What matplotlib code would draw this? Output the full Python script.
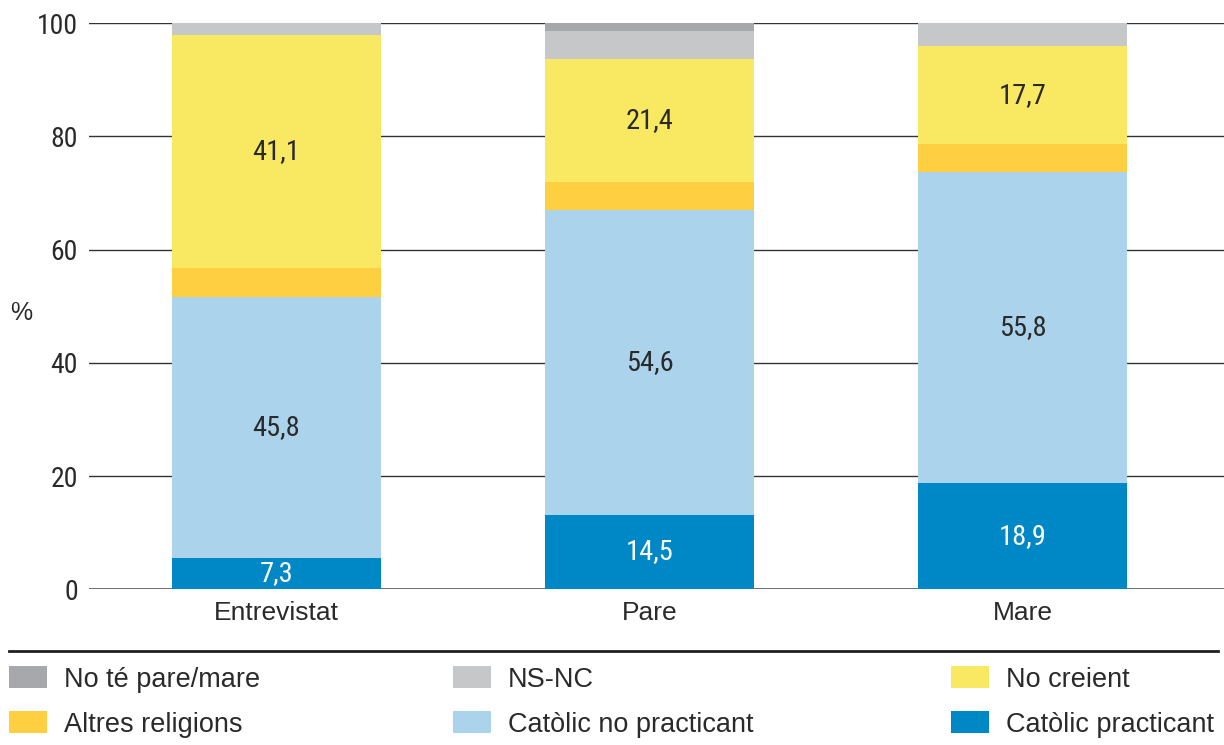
import matplotlib
matplotlib.use("Agg")
import matplotlib.pyplot as plt
from matplotlib.patches import Rectangle
from matplotlib.lines import Line2D
from matplotlib import font_manager as fm
from matplotlib.transforms import ScaledTranslation

# ---------------- data ----------------
categories = ["Entrevistat", "Pare", "Mare"]
series_names = ["Catòlic practicant", "Catòlic no practicant", "Altres religions",
                "No creient", "NS-NC", "No té pare/mare"]
catolic_practicant = [5.6, 13.2, 18.8]
catolic_no_practicant = [46.1, 53.9, 55.0]
altres_religions = [5.1, 4.9, 4.8]
no_creient = [41.1, 21.7, 17.4]
ns_nc = [2.1, 4.9, 4.0]
no_te_pare_mare = [0.0, 1.4, 0.0]
series_values = [catolic_practicant, catolic_no_practicant, altres_religions,
                 no_creient, ns_nc, no_te_pare_mare]
# printed value labels (None = no label)
labels_practicant = ["7,3", "14,5", "18,9"]
labels_no_practicant = ["45,8", "54,6", "55,8"]
labels_no_creient = ["41,1", "21,4", "17,7"]
series_labels = [labels_practicant, labels_no_practicant, None, labels_no_creient, None, None]
y_ticks = [0, 20, 40, 60, 80, 100]

colors = ["#0087c5", "#abd3eb", "#fecf40", "#f9e862", "#c6c7c9", "#a7a8ac"]
label_colors = ["white", "#2a2a2a", "#2a2a2a", "#2a2a2a", "#2a2a2a", "#2a2a2a"]

FONT = ["Liberation Sans", "DejaVu Sans"]
TXT = "#2a2a2a"


def find_narrow():
    best = None
    for f in fm.fontManager.ttflist:
        nm = f.name.lower()
        path = f.fname.lower()
        if f.style != "normal" or f.weight not in (400, "normal", "regular"):
            continue
        narrow = ("narrow" in nm or "condensed" in nm or "narrow" in path
                  or "condensed" in path or str(f.stretch) in ("condensed", "semi-condensed"))
        if not narrow:
            continue
        if "mono" in nm or "serif" in nm and "sans" not in nm:
            continue
        score = 0
        if "liberation sans narrow" in nm:
            score = 5
        elif "roboto" in nm:
            score = 4
        elif "open sans" in nm or "noto sans" in nm:
            score = 3
        elif "dejavu sans" in nm:
            score = 2
        else:
            score = 1
        if best is None or score > best[0]:
            best = (score, f.fname)
    return best[1] if best else None


narrow_path = find_narrow()
if narrow_path:
    NARROW_FP = dict(fontproperties=fm.FontProperties(fname=narrow_path))
    num_size = 20.5
    tick_size = 20
else:
    NARROW_FP = dict(family=FONT)
    num_size = 17
    tick_size = 17

W, H = 1224, 745
fig = plt.figure(figsize=(W / 100, H / 100), dpi=100)
ax = fig.add_axes([89 / W, (H - 589.3) / H, 1 - 89 / W, (589.3 - 23.3) / H])

# gridlines
for v in y_ticks[1:]:
    ax.axhline(v, color="#333333", lw=1.0, zorder=0)
ax.axhline(0, color="#6d6e70", lw=1.4, zorder=0)

x = list(range(len(categories)))
bottoms = [0.0] * len(categories)
for vals, col, labs, lc in zip(series_values, colors, series_labels, label_colors):
    ax.bar(x, vals, width=0.56, bottom=bottoms, color=col, zorder=2, linewidth=0)
    if labs is not None:
        for i, (v, b, t) in enumerate(zip(vals, bottoms, labs)):
            t_ = ax.text(i, b + v / 2, t, ha="center", va="center", color=lc, zorder=3,
                         **NARROW_FP)
            t_.set_fontsize(num_size)
    bottoms = [b + v for b, v in zip(bottoms, vals)]

ax.set_xlim(-0.5027, 2.540)
ax.set_ylim(0, 100)
for s in ax.spines.values():
    s.set_visible(False)
ax.set_yticks(y_ticks)
ax.set_yticklabels([str(t) for t in y_ticks], color=TXT, **NARROW_FP)
for lbl in ax.get_yticklabels():
    lbl.set_fontsize(tick_size)
    lbl.set_transform(lbl.get_transform() + ScaledTranslation(0, -3 / 100, fig.dpi_scale_trans))
ax.set_xticks(x)
ax.set_xticklabels(categories, family=FONT, fontsize=19, color=TXT)
ax.tick_params(axis="y", length=0, pad=8)
ax.tick_params(axis="x", length=0, pad=8.5)

fig.text(21 / W, (H - 313) / H, "%", ha="center", va="center", color=TXT,
         family=FONT, fontsize=18)

# separator line
fig.add_artist(Line2D([9 / W, 1218 / W], [(H - 650.7) / H] * 2, color="#231f20",
                      lw=2.0, transform=fig.transFigure))

# legend (manual, 3 columns x 2 rows)
legend_order = [5, 4, 3, 2, 1, 0]
col_x = [9, 453, 951]
row_y = [677.3, 722.0]
for k, si in enumerate(legend_order):
    r, c = divmod(k, 3)
    x0 = col_x[c]
    yc = row_y[r]
    fig.add_artist(Rectangle((x0 / W, (H - yc - 11) / H), 38 / W, 22 / H,
                             transform=fig.transFigure, color=colors[si], lw=0))
    fig.text((x0 + 55) / W, (H - yc) / H, series_names[si], ha="left",
             va="center_baseline", family=FONT, fontsize=19.5, color=TXT)

fig.savefig("out.png", dpi=100)
